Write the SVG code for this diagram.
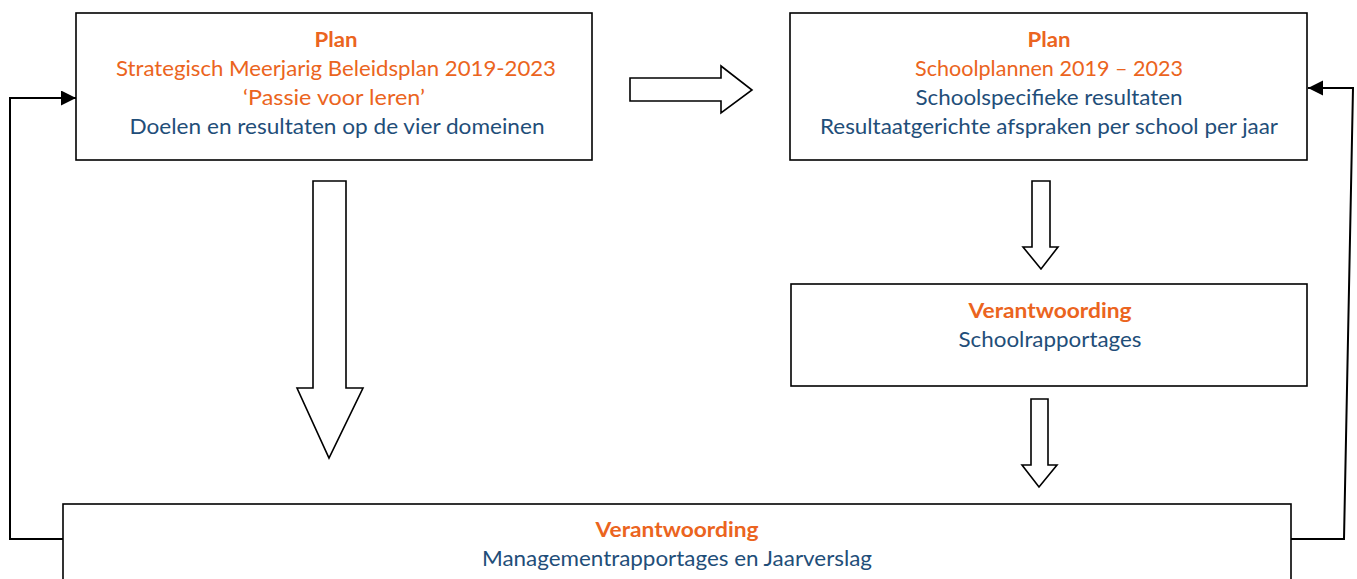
<svg xmlns="http://www.w3.org/2000/svg" width="1357" height="579" viewBox="0 0 1357 579">
<defs>
<style>
.box{fill:#fff;stroke:#000;stroke-width:1.6}
.bar{fill:#fff;stroke:#000;stroke-width:1.6;stroke-linejoin:miter}
.t{font-family:Lato,"Open Sans","Liberation Sans",sans-serif;font-size:21px;text-anchor:middle}
.o{fill:#EB6420}
.b{fill:#1F4E79}
.h{font-weight:bold}
.line{fill:none;stroke:#000;stroke-width:2}
</style>
<marker id="ah" markerWidth="16" markerHeight="16" refX="15" refY="7.5" orient="auto" markerUnits="userSpaceOnUse">
<path d="M0,0 L15,7.5 L0,15 Z" fill="#000"/>
</marker>
</defs>
<rect width="1357" height="579" fill="#fff"/>

<g id="connectors">
<polyline class="line" points="63,539 10,539 10,98 76,98" marker-end="url(#ah)"/>
<polyline class="line" points="1291,539 1344,539 1353,88 1308,88" marker-end="url(#ah)"/>
<path id="arrow-right" class="bar" d="M630,78 L721,78 L721,66 L752,90 L721,113 L721,101 L630,101 Z"/>
<path id="arrow-down-big" class="bar" d="M313,181 L346,181 L346,388 L363,388 L329,458 L297,388 L313,388 Z"/>
<path id="arrow-down-1" class="bar" d="M1032,181 L1050,181 L1050,247 L1058,247 L1041,269 L1023,247 L1032,247 Z"/>
<path id="arrow-down-2" class="bar" d="M1031,399 L1048,399 L1048,465 L1057,465 L1039,487 L1022,465 L1031,465 Z"/>
</g>

<g id="node-plan-strategic">
<rect class="box" x="76" y="13" width="516" height="147"/>
<text class="t o h" x="336" y="47" textLength="43" lengthAdjust="spacingAndGlyphs">Plan</text>
<text class="t o" x="336" y="76" textLength="440" lengthAdjust="spacingAndGlyphs">Strategisch Meerjarig Beleidsplan 2019-2023</text>
<text class="t o" x="334" y="105" textLength="182" lengthAdjust="spacingAndGlyphs">‘Passie voor leren’</text>
<text class="t b" x="337" y="134" textLength="415" lengthAdjust="spacingAndGlyphs">Doelen en resultaten op de vier domeinen</text>
</g>

<g id="node-plan-school">
<rect class="box" x="790" y="13" width="517" height="147"/>
<text class="t o h" x="1049" y="47" textLength="43" lengthAdjust="spacingAndGlyphs">Plan</text>
<text class="t o" x="1049" y="76" textLength="268" lengthAdjust="spacingAndGlyphs">Schoolplannen 2019 – 2023</text>
<text class="t b" x="1049" y="105" textLength="267" lengthAdjust="spacingAndGlyphs">Schoolspecifieke resultaten</text>
<text class="t b" x="1049" y="134" textLength="458" lengthAdjust="spacingAndGlyphs">Resultaatgerichte afspraken per school per jaar</text>
</g>

<g id="node-verantwoording-school">
<rect class="box" x="791" y="284" width="516" height="102"/>
<text class="t o h" x="1050" y="318" textLength="163" lengthAdjust="spacingAndGlyphs">Verantwoording</text>
<text class="t b" x="1050" y="347" textLength="183" lengthAdjust="spacingAndGlyphs">Schoolrapportages</text>
</g>

<g id="node-verantwoording-management">
<rect class="box" x="63" y="504" width="1228" height="100"/>
<text class="t o h" x="677" y="537" textLength="163" lengthAdjust="spacingAndGlyphs">Verantwoording</text>
<text class="t b" x="677" y="566" textLength="390" lengthAdjust="spacingAndGlyphs">Managementrapportages en Jaarverslag</text>
</g>
</svg>
